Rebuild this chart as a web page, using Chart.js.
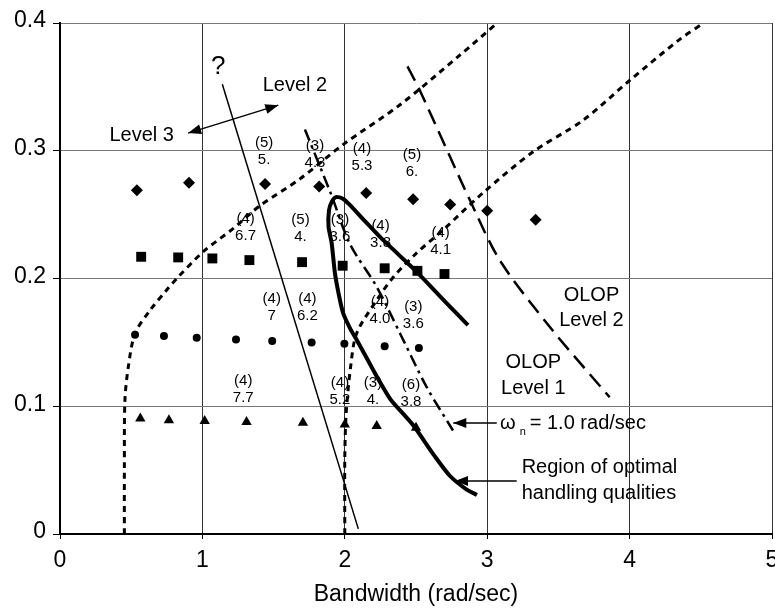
<!DOCTYPE html>
<html>
<head>
<meta charset="utf-8">
<script src="https://cdn.jsdelivr.net/npm/chart.js@4.4.0/dist/chart.umd.min.js"></script>
<style>
  html, body { margin: 0; padding: 0; background: #fff; overflow: hidden; }
  canvas { display: block; }
</style>
</head>
<body>
<canvas id="hqChart" width="775" height="608"></canvas>
<script>
// tick labels
const xTickLabels = ['0', '1', '2', '3', '4', '5'];
const yTickLabels = ['0', '0.1', '0.2', '0.3', '0.4'];

// flight test points, one row of symbols per configuration group
const diamondPts = [[0.54, 0.269], [0.906, 0.275], [1.44, 0.274], [1.82, 0.272], [2.15, 0.267], [2.48, 0.262], [2.74, 0.258], [3.0, 0.253], [3.34, 0.246]];
const squarePts = [[0.57, 0.217], [0.83, 0.2165], [1.07, 0.2157], [1.33, 0.2144], [1.70, 0.2128], [1.985, 0.210], [2.28, 0.208], [2.51, 0.206], [2.70, 0.2035]];
const circlePts = [[0.527, 0.156], [0.73, 0.155], [0.96, 0.1536], [1.236, 0.1523], [1.49, 0.151], [1.767, 0.150], [1.997, 0.149], [2.28, 0.147], [2.52, 0.1455]];
const trianglePts = [[0.564, 0.0905], [0.765, 0.089], [1.016, 0.0884], [1.31, 0.0876], [1.706, 0.087], [2.0, 0.0858], [2.224, 0.0845], [2.50, 0.0832]];

// boundaries
const questionLine = [[1.14, 0.352], [2.095, 0.004]];
const levelLeftCurve = [[0.452, 0], [0.452, 0.05], [0.456, 0.105], [0.48, 0.131], [0.527, 0.157], [0.632, 0.175], [0.749, 0.191], [0.82, 0.2], [1.006, 0.221], [1.215, 0.239], [1.404, 0.257], [1.685, 0.278], [1.99, 0.305], [2.388, 0.336], [2.81, 0.375], [3.07, 0.4]];
const levelRightCurve = [[2.0, 0], [2.0, 0.06], [2.01, 0.095], [2.04, 0.13], [2.083, 0.157], [2.224, 0.183], [2.34, 0.201], [2.505, 0.22], [2.69, 0.238], [2.97, 0.267], [3.32, 0.299], [3.675, 0.324], [4.0, 0.355], [4.35, 0.387], [4.52, 0.4]];
const wnCurve = [[1.72, 0.3166], [1.90, 0.267], [2.036, 0.227], [2.224, 0.1935], [2.388, 0.157], [2.575, 0.115], [2.76, 0.081]];
const olopCurve = [[2.44, 0.366], [2.528, 0.347], [2.88, 0.261], [3.09, 0.214], [3.44, 0.162], [3.86, 0.107]];
const optimalRegion = [
    [2.865, 0.1635], [2.809, 0.1699], [2.654, 0.1878], [2.505, 0.2052], [2.374, 0.2191], [2.247, 0.2326],
    [2.128, 0.2465], [2.037, 0.2574], [1.987, 0.2625], [1.938, 0.2637], [1.908, 0.2600], [1.889, 0.2535],
    [1.886, 0.2405], [1.908, 0.2275], [1.931, 0.2040], [1.961, 0.1857], [1.989, 0.1727], [2.037, 0.1610],
    [2.084, 0.1518], [2.142, 0.1401], [2.200, 0.1283], [2.259, 0.1166], [2.324, 0.1049], [2.479, 0.0853],
    [2.626, 0.0618], [2.739, 0.0454], [2.851, 0.0352], [2.928, 0.0305]
];

// pilot ratings written next to the points
const ratingTop = ['(5)', '(3)', '(4)', '(5)', '(4)', '(5)', '(3)', '(4)', '(4)', '(4)', '(4)', '(4)', '(3)', '(4)', '(4)', '(3)', '(6)'];
const ratingBottom = ['5.', '4.3', '5.3', '6.', '6.7', '4.', '3.6', '3.8', '4.1', '7', '6.2', '4.0', '3.6', '7.7', '5.2', '4.', '3.8'];
const ratingAt = [[1.433, 0.306], [1.791, 0.3036], [2.121, 0.3013], [2.472, 0.2966], [1.303, 0.2465], [1.689, 0.2457], [1.966, 0.2457], [2.251, 0.2413], [2.673, 0.2361], [1.487, 0.1839], [1.737, 0.1839], [2.247, 0.1818], [2.481, 0.1779], [1.287, 0.1197], [1.966, 0.1181], [2.198, 0.1181], [2.465, 0.1166]];

const FONT = '"Liberation Sans", Arial, Helvetica, sans-serif';
Chart.defaults.font.family = FONT;
Chart.defaults.color = '#000';

const toXY = pts => pts.map(p => ({ x: p[0], y: p[1] }));

function curve(label, pts, width, dash, tension) {
    return {
        label: label, data: toXY(pts), showLine: true, pointRadius: 0,
        borderColor: '#000', borderWidth: width, borderDash: dash,
        tension: tension, fill: false
    };
}
function marks(label, pts, style, r) {
    return {
        label: label, data: toXY(pts), showLine: false, pointStyle: style,
        pointRadius: r, backgroundColor: '#000', borderColor: '#000', borderWidth: 0
    };
}

function arrow(ctx, x1, y1, x2, y2, both) {
    const head = (ax, ay, bx, by) => {
        const a = Math.atan2(by - ay, bx - ax);
        ctx.beginPath();
        ctx.moveTo(bx, by);
        ctx.lineTo(bx - 13 * Math.cos(a) + 5 * Math.sin(a), by - 13 * Math.sin(a) - 5 * Math.cos(a));
        ctx.lineTo(bx - 13 * Math.cos(a) - 5 * Math.sin(a), by - 13 * Math.sin(a) + 5 * Math.cos(a));
        ctx.closePath();
        ctx.fill();
    };
    ctx.beginPath();
    ctx.moveTo(x1, y1);
    ctx.lineTo(x2, y2);
    ctx.stroke();
    head(x1, y1, x2, y2);
    if (both) head(x2, y2, x1, y1);
}

// texts and arrows on the plot
const notes = {
    id: 'notes',
    afterDatasetsDraw(chart) {
        const { ctx, scales: { x, y } } = chart;
        const px = v => x.getPixelForValue(v);
        const py = v => y.getPixelForValue(v);
        ctx.save();
        ctx.fillStyle = '#000';
        ctx.strokeStyle = '#000';
        ctx.textAlign = 'center';
        ctx.textBaseline = 'middle';

        // x tick labels (drawn here so the last one does not shrink the plot)
        ctx.font = '23px ' + FONT;
        xTickLabels.forEach((t, i) => ctx.fillText(t, px(i), y.bottom + 27));

        ctx.font = '15px ' + FONT;
        ratingAt.forEach((p, i) => {
            ctx.fillText(ratingTop[i], px(p[0]), py(p[1]));
            ctx.fillText(ratingBottom[i], px(p[0]), py(p[1]) + 17);
        });

        ctx.font = '26px ' + FONT;
        ctx.fillText('?', px(1.112), py(0.3656));

        ctx.font = '20px ' + FONT;
        ctx.fillText('Level 3', px(0.574), py(0.3122));
        ctx.fillText('Level 2', px(1.650), py(0.3511));
        ctx.fillText('OLOP', px(3.732), py(0.187));
        ctx.fillText('Level 2', px(3.732), py(0.1672));
        ctx.fillText('OLOP', px(3.324), py(0.1342));
        ctx.fillText('Level 1', px(3.324), py(0.1142));

        ctx.lineWidth = 1.5;
        arrow(ctx, px(0.9), py(0.3138), px(1.533), py(0.3357), true);
        arrow(ctx, px(3.067), py(0.0869), px(2.762), py(0.0869), false);
        arrow(ctx, px(3.207), py(0.0415), px(2.774), py(0.0415), false);

        // omega_n label
        ctx.textAlign = 'left';
        let tx = px(3.09);
        const ty = py(0.0869);
        ctx.font = '20px ' + FONT;
        ctx.fillText('\u03C9', tx, ty);
        tx += ctx.measureText('\u03C9').width + 4;
        ctx.font = '11px ' + FONT;
        ctx.fillText('n', tx, ty + 9);
        tx += ctx.measureText('n').width + 4;
        ctx.font = '20px ' + FONT;
        ctx.fillText('= 1.0 rad/sec', tx, ty);

        ctx.fillText('Region of optimal', px(3.242), py(0.0522));
        ctx.fillText('handling qualities', px(3.242), py(0.0318));
        ctx.restore();
    }
};

new Chart(document.getElementById('hqChart'), {
    type: 'scatter',
    data: {
        datasets: [
            marks('Diamonds', diamondPts, 'rectRot', 6),
            marks('Squares', squarePts, 'rect', 7),
            marks('Circles', circlePts, 'circle', 4),
            marks('Triangles', trianglePts, 'triangle', 6),
            curve('Optimal region', optimalRegion, 4, [], 0.25),
            curve('Question', questionLine, 1.5, [], 0),
            curve('Level boundary 3', levelLeftCurve, 3, [6, 5], 0.3),
            curve('Level boundary 2', levelRightCurve, 3, [6, 5], 0.3),
            curve('wn = 1.0', wnCurve, 2.5, [12, 5, 3, 5], 0.3),
            curve('OLOP', olopCurve, 2.5, [16, 8], 0.3)
        ]
    },
    options: {
        responsive: false,
        animation: false,
        layout: { autoPadding: false, padding: { top: 23, right: 3, left: 0, bottom: 0 } },
        plugins: { legend: { display: false }, tooltip: { enabled: false } },
        scales: {
            x: {
                type: 'linear', min: 0, max: 5,
                afterFit: s => { s.height = 74; },
                ticks: { stepSize: 1, display: false },
                grid: { color: '#333', lineWidth: 1, tickLength: 5, tickColor: '#000' },
                border: { color: '#000', width: 2 },
                title: { display: true, text: 'Bandwidth (rad/sec)', color: '#000', font: { size: 23 }, padding: 0 }
            },
            y: {
                min: 0, max: 0.4,
                afterFit: s => { s.width = 60; },
                ticks: {
                    stepSize: 0.1, padding: 7, color: '#000', labelOffset: -2,
                    font: { size: 23 },
                    callback: (v, i) => yTickLabels[i]
                },
                grid: { color: '#777', lineWidth: 1, tickLength: 7, tickColor: '#000' },
                border: { color: '#000', width: 2 }
            }
        }
    },
    plugins: [notes]
});
</script>
</body>
</html>
